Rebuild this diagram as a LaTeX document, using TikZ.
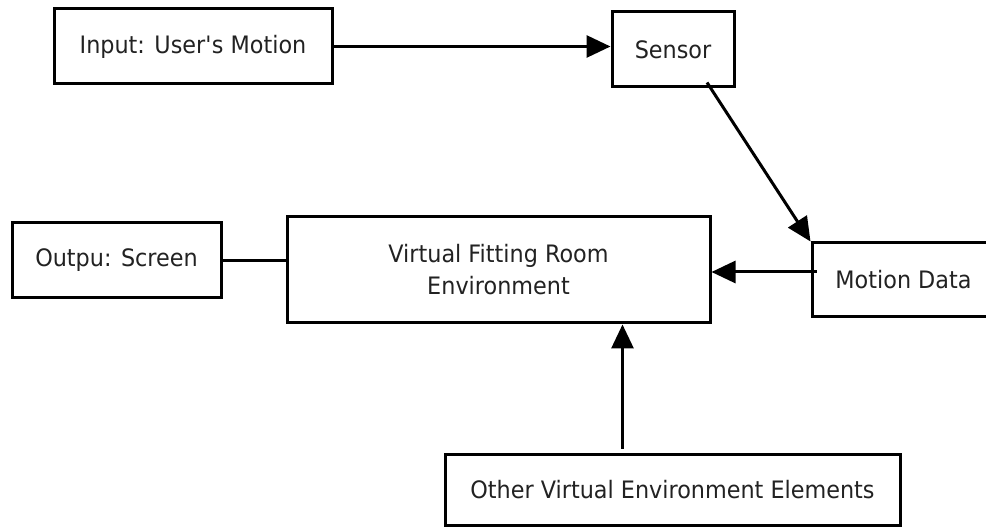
\documentclass[tikz,border=0pt]{standalone}
\usepackage{fontspec}
\setmainfont{DejaVu Sans}[FakeStretch=0.93]
\usetikzlibrary{arrows.meta}
\definecolor{boxline}{RGB}{0, 0, 0}
\definecolor{boxtext}{RGB}{34, 34, 34}
\tikzstyle{block} = [
  draw=boxline,
  line width=3pt,
  fill=white,
  inner sep=0pt,
  align=center,
  text=boxtext,
  font=\fontsize{24}{32}\selectfont,
]
\tikzstyle{conn} = [
  line width=3pt,
  draw=boxline,
  -{Triangle[length=24pt, width=22pt]},
]
\tikzstyle{plain} = [
  line width=3pt,
  draw=boxline,
]

\begin{document}
\begin{tikzpicture}[x=1pt, y=-1pt]
            \useasboundingbox (0,0) rectangle (986,529);
            \clip (0,0) rectangle (986,529);

            % Boxes
            \node[block, minimum width=278pt, minimum height=75pt] (input) at (193,46.5) {Input: User\textquotesingle s Motion};
            \node[block, minimum width=122pt, minimum height=75pt] (sensor) at (673,49.5) {Sensor};
            \node[block, minimum width=209pt, minimum height=75pt] (output) at (116.5,260.5) {Outpu: Screen};
            \node[block, minimum width=423pt, minimum height=106pt] (vfr) at (498.5,270) {Virtual Fitting Room\\Environment};
            \node[block, minimum width=183pt, minimum height=74pt] (motion) at (903.5,280) {Motion Data};
            \node[block, minimum width=455pt, minimum height=71pt] (other) at (672.5,489.5) {Other Virtual Environment Elements};

            % Connector ends
            \coordinate (sensorout) at ([xshift=34pt, yshift=6pt]sensor.south);
            \coordinate (motionout) at ([xshift=6pt, yshift=8pt]motion.west);
            \coordinate (otherout) at ([xshift=-50pt, yshift=4pt]other.north);

            % Arrows
            \draw[conn] (input.east) -- (input.east -| sensor.west);
            \draw[conn] (sensorout) -- (motion.north west);
            \draw[conn] (motionout) -- (motionout -| vfr.east);
            \draw[conn] (otherout) -- (otherout |- vfr.south);

            % Line without a head
            \draw[plain] (output.east) -- (output.east -| vfr.west);
          \end{tikzpicture}
\end{document}
